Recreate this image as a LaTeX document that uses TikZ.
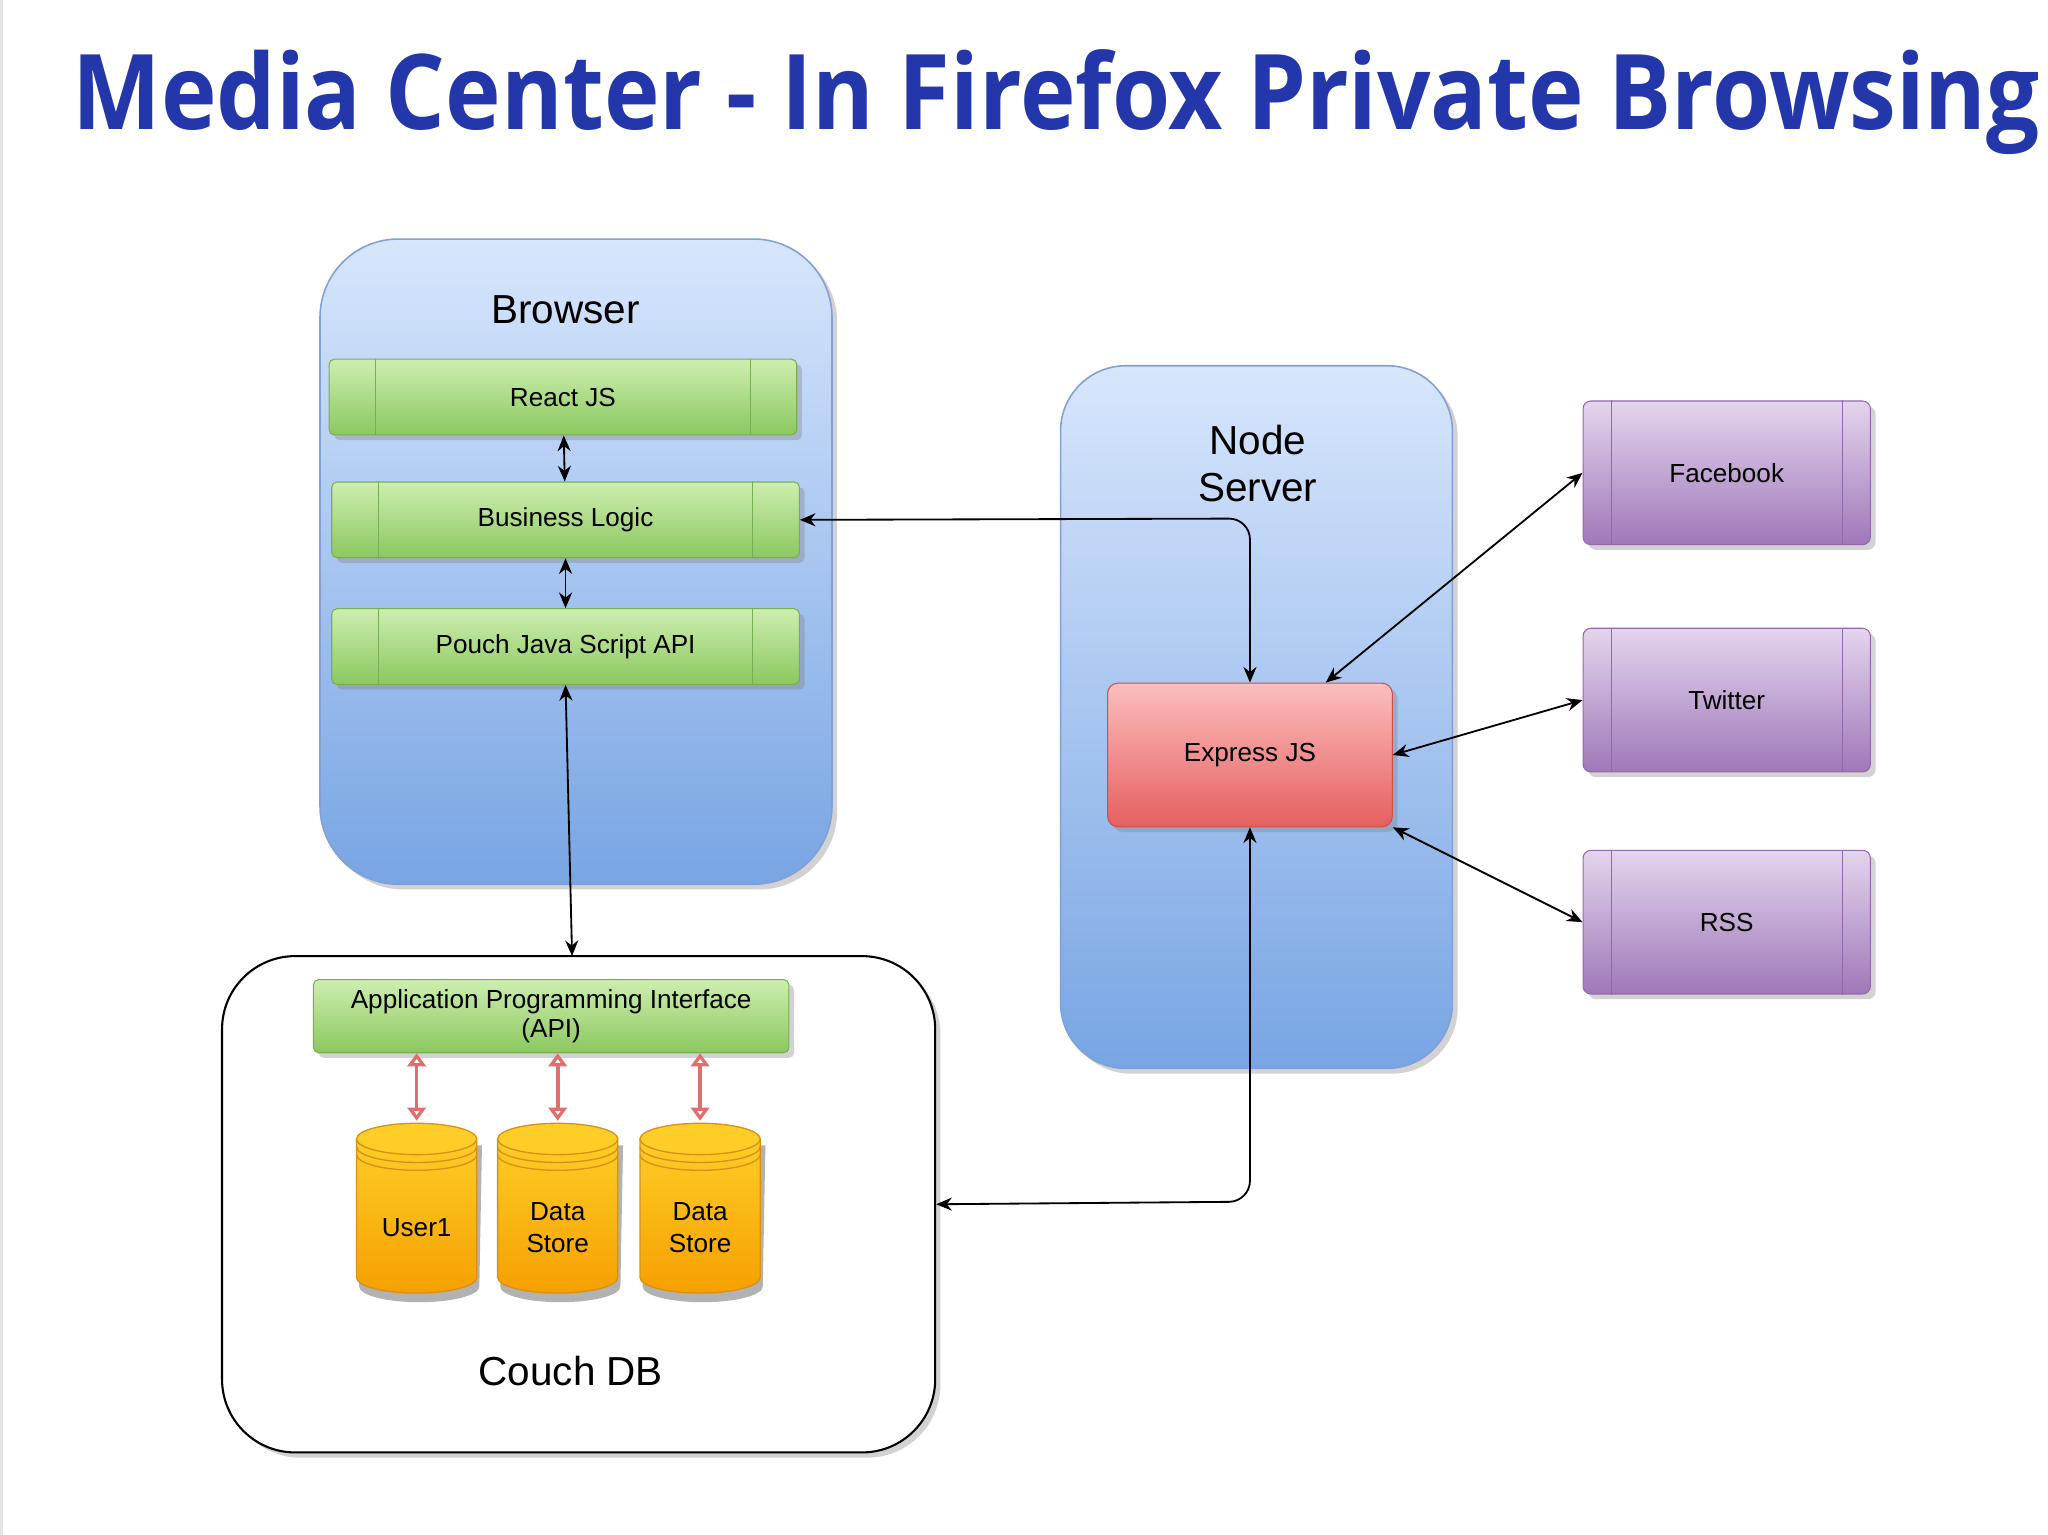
\documentclass[tikz,border=0pt]{standalone}
\usepackage{fontspec}
\setmainfont{Liberation Sans}
\newfontfamily\titlefont{Open Sans}
\usetikzlibrary{shadows,arrows.meta}
\definecolor{titleblue}{RGB}{35,55,170}
\definecolor{gtop}{RGB}{205,238,175}\definecolor{gbot}{RGB}{140,200,95}\definecolor{gbrd}{RGB}{120,175,85}
\definecolor{rtop}{RGB}{252,190,190}\definecolor{rbot}{RGB}{230,95,95}\definecolor{rbrd}{RGB}{200,80,80}
\definecolor{ptop}{RGB}{228,212,238}\definecolor{pbot}{RGB}{160,120,185}\definecolor{pbrd}{RGB}{145,105,170}
\definecolor{btop}{RGB}{215,230,252}\definecolor{bbot}{RGB}{120,165,228}\definecolor{bbrd}{RGB}{130,160,210}
\definecolor{otop}{RGB}{255,205,40}\definecolor{obot}{RGB}{245,160,0}\definecolor{obrd}{RGB}{215,145,20}
\definecolor{pink}{RGB}{225,110,110}
\tikzset{
 sh/.style={drop shadow={shadow xshift=2pt,shadow yshift=-2pt,opacity=.35}},
 cont/.style={draw=bbrd,rounded corners=30pt,top color=btop,bottom color=bbot,sh,line width=0.6pt},
 gbox/.style={draw=gbrd,rounded corners=2pt,top color=gtop,bottom color=gbot,sh,minimum width=179pt,minimum height=29pt,font=\fontsize{10}{11.5}\selectfont,align=center},
 pbox/.style={draw=pbrd,rounded corners=3pt,top color=ptop,bottom color=pbot,sh,minimum width=110pt,minimum height=55pt,font=\fontsize{10}{12}\selectfont},
 rbox/.style={draw=rbrd,rounded corners=4pt,top color=rtop,bottom color=rbot,sh,minimum width=109pt,minimum height=55pt,font=\fontsize{10}{12}\selectfont},
 conn/.style={draw,line width=0.7pt,{Stealth[length=6pt,width=5pt]}-{Stealth[length=6pt,width=5pt]}},
 big/.style={font=\fontsize{15.5}{18}\selectfont,align=center},
}
\begin{document}
\begin{tikzpicture}[x=0.5pt,y=-0.5pt]
\useasboundingbox[fill=white] (0,0) rectangle (1568,1175);
\fill[gray!20] (0,0) rectangle (2,1175);
\node[anchor=base west,text=titleblue,font=\titlefont\bfseries\fontsize{40}{46}\selectfont,inner sep=0] (title) at (55,99) {\scalebox{0.9}[1]{Media Center - In Firefox Private Browsing}};
% Browser
\node[cont,minimum width=196pt,minimum height=247pt] (browser) at (441,430) {};
\node[big] (blabel) at (433,237) {Browser};
\node[gbox] (react) at (431,304) {React JS};
\node[gbox] (biz) at (433,398) {Business Logic};
\node[gbox] (pouch) at (433,495) {Pouch Java Script API};
\foreach \n in {react,biz,pouch}{
 \draw[gbrd] ([xshift=18pt]\n.north west) -- ([xshift=18pt]\n.south west);
 \draw[gbrd] ([xshift=-18pt]\n.north east) -- ([xshift=-18pt]\n.south east);}
% Node server
\node[cont,minimum width=150pt,minimum height=269pt,rounded corners=25pt] (nserver) at (962,549) {};
\node[big] (nlabel) at (963,355) {Node\\Server};
\node[rbox] (express) at (957,578) {Express JS};
% social
\node[pbox] (fb) at (1322,362) {Facebook};
\node[pbox] (tw) at (1322,536) {Twitter};
\node[pbox] (rss) at (1322,706) {RSS};
\foreach \n in {fb,tw,rss}{
 \draw[pbrd] ([xshift=11pt]\n.north west) -- ([xshift=11pt]\n.south west);
 \draw[pbrd] ([xshift=-11pt]\n.north east) -- ([xshift=-11pt]\n.south east);}
% Couch DB
\node[draw=black,line width=0.8pt,rounded corners=28pt,fill=white,sh,minimum width=273pt,minimum height=190pt] (couch) at (443,922) {};
\node[big] (clabel) at (437,1050) {Couch DB};
\node[gbox,minimum width=182pt,minimum height=28pt,inner sep=1pt,font=\fontsize{10}{11}\selectfont] (api) at (422,778) {Application Programming Interface\\(API)};
% cylinders
\foreach \x/\t/\nm in {319/User1/c1,427/{Data\\Store}/c2,536/{Data\\Store}/c3}{
 \fill[black,opacity=.3] (\x-44,877) -- (\x-44,985) arc[start angle=180,end angle=360,x radius=23pt,y radius=6pt] -- (\x+50,877) -- cycle;
 \path[draw=obrd,top color=otop,bottom color=obot,line width=0.5pt] (\x-46,872) -- (\x-46,978) arc[start angle=180,end angle=360,x radius=23pt,y radius=6pt] -- (\x+46,872) -- cycle;
 \draw[obrd,fill=otop,line width=0.5pt] (\x,872) ellipse[x radius=23pt,y radius=6pt];
 \draw[obrd,line width=0.5pt] (\x-46,878) arc[start angle=180,end angle=360,x radius=23pt,y radius=6pt];
 \draw[obrd,line width=0.5pt] (\x-46,884) arc[start angle=180,end angle=360,x radius=23pt,y radius=6pt];
 \node[align=center,font=\fontsize{10}{12}\selectfont] (\nm) at (\x,940) {\t};
 \coordinate (\nm top) at (\x,858);
 \draw[pink,line width=1.4pt,{Triangle[open,length=5pt,width=7pt]}-{Triangle[open,length=5pt,width=7pt]}] (api.south -| \nm top) -- (\nm top);
}
% connectors
\draw[conn] (react) -- (biz);
\draw[conn] (biz) -- (pouch);
\coordinate (couchtop) at (438,732);
\draw[conn] (pouch.south) -- (couchtop);
\draw[conn,rounded corners=8pt] (biz.east) -- (957,397) -- (express.north);
\draw[conn,rounded corners=8pt] (express.south) -- (957,920) -- (couch.east);
\draw[conn] ([xshift=29pt]express.north) -- (fb.west);
\draw[conn] (express.east) -- (tw.west);
\draw[conn] (express.south east) -- (rss.west);
\end{tikzpicture}
\end{document}
